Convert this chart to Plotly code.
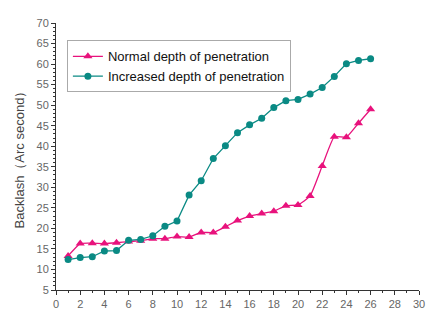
import plotly.graph_objects as go

x_vals = list(range(1, 27))
normal_depth = [13.3, 16.3, 16.4, 16.3, 16.5, 16.8, 17.0, 17.5, 17.5, 18.0, 17.9, 19.0, 19.0,
                20.4, 21.9, 23.0, 23.6, 24.2, 25.5, 25.7, 27.9, 35.2, 42.3, 42.2, 45.6, 49.0]
increased_depth = [12.4, 12.9, 13.1, 14.5, 14.6, 17.1, 17.3, 18.2, 20.5, 21.8, 28.1, 31.6, 37.0,
                   40.1, 43.3, 45.2, 46.8, 49.4, 51.1, 51.4, 52.7, 54.3, 57.0, 60.1, 60.9, 61.3]
x_ticks = list(range(0, 31, 2))
y_ticks = list(range(5, 71, 5))

pink = "#E8127C"
teal = "#0A8A84"

fig = go.Figure()
fig.add_trace(go.Scatter(
    x=x_vals, y=normal_depth, name="Normal depth of penetration",
    mode="lines+markers", line=dict(color=pink, width=1.3, shape="spline", smoothing=0.4),
    marker=dict(symbol="triangle-up", size=8, color=pink)))
fig.add_trace(go.Scatter(
    x=x_vals, y=increased_depth, name="Increased depth of penetration",
    mode="lines+markers", line=dict(color=teal, width=1.3),
    marker=dict(symbol="circle", size=7, color=teal)))

axis_common = dict(showgrid=False, zeroline=False, showline=True, linecolor="#333",
                   linewidth=1, ticks="outside", ticklen=4, tickcolor="#333",
                   tickfont=dict(family="Arial, Liberation Sans", size=11, color="#666"))
fig.update_xaxes(range=[0, 30], tickvals=x_ticks,
                 minor=dict(ticks="outside", ticklen=2, dtick=1, tickcolor="#333"),
                 **axis_common)
fig.update_yaxes(range=[5, 70], tickvals=y_ticks,
                 minor=dict(ticks="outside", ticklen=2, dtick=1, tickcolor="#333"),
                 title=dict(text="Backlash（Arc second）", standoff=8,
                            font=dict(family="Arial, Liberation Sans", size=13, color="#444")),
                 **axis_common)

fig.update_layout(
    width=444, height=324,
    margin=dict(l=56, r=25, t=23, b=34),
    paper_bgcolor="white", plot_bgcolor="white",
    showlegend=True,
    legend=dict(x=0.03, y=0.935, xanchor="left", yanchor="top",
                bgcolor="white", bordercolor="#aaa", borderwidth=1,
                font=dict(family="Arial, Liberation Sans", size=13, color="#111"),
                tracegroupgap=0, itemwidth=30),
)

fig.write_html("out.html")
